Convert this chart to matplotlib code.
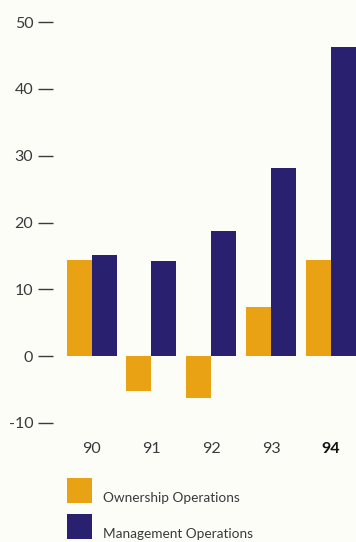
import matplotlib
matplotlib.use('Agg')
import matplotlib.pyplot as plt
from matplotlib.patches import Rectangle
import numpy as np

plt.rcParams['font.family'] = ['Lato', 'DejaVu Sans']

years = ['90', '91', '92', '93', '94']
ownership = [14.4, -5.2, -6.3, 7.3, 14.4]
management = [15.1, 14.2, 18.8, 28.2, 46.2]
yticks = [-10, 0, 10, 20, 30, 40, 50]

ORANGE = '#E8A213'
NAVY = '#2A2070'
BG = '#FDFDF8'
TXT = '#3a3a3a'

W, H = 356, 542
fig = plt.figure(figsize=(W / 100, H / 100), dpi=100, facecolor=BG)

# axes: left at x=53px, bottom at y=423px (-10), top at y=10px
px_per_unit = 334 / 50
top_val = 50 + 12 / px_per_unit
ax = fig.add_axes([53 / W, (H - 423) / H, 1 - 53 / W, (423 - 10) / H])
ax.set_facecolor(BG)

x = np.arange(len(years))
bw = 25 / 60
ax.bar(x - bw / 2, ownership, bw, color=ORANGE, linewidth=0)
ax.bar(x + bw / 2, management, bw, color=NAVY, linewidth=0)

ax.set_xlim(-0.645, 4.42)
ax.set_ylim(-10, top_val)
ax.set_yticks(yticks)
ax.set_yticklabels([str(v) for v in yticks], fontsize=11.5, color=TXT)
ax.tick_params(axis='y', length=11, width=1.0, color=TXT, pad=3.2, direction='out')
ax.set_xticks(x)
ax.set_xticklabels(years, fontsize=11.5, color=TXT)
ax.tick_params(axis='x', length=0, pad=14)
ax.get_xticklabels()[-1].set_fontweight('bold')
ax.get_xticklabels()[-1].set_color('#111111')
for s in ax.spines.values():
    s.set_visible(False)

# legend
def legend_item(y_top, color, label):
    fig.add_artist(Rectangle((67 / W, 1 - (y_top + 25) / H), 25 / W, 25 / H,
                             transform=fig.transFigure, color=color, lw=0))
    fig.text(103 / W, 1 - (y_top + 20) / H, label, fontsize=9.8, color=TXT,
             va='center', ha='left')

legend_item(478, ORANGE, 'Ownership Operations')
legend_item(514, NAVY, 'Management Operations')

fig.savefig('out.png', dpi=100, facecolor=BG)
